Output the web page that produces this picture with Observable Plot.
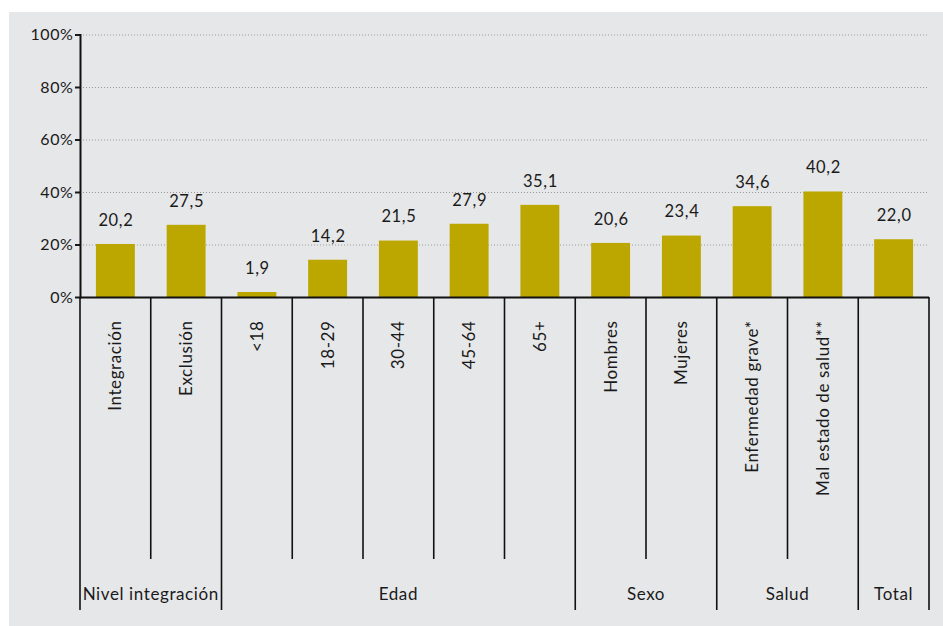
<!DOCTYPE html>
<html><head><meta charset="utf-8">
<script src="https://cdn.jsdelivr.net/npm/d3@7"></script>
<script src="https://cdn.jsdelivr.net/npm/@observablehq/plot@0.6"></script>
<style>
html,body{margin:0;padding:0;background:#fff;}
#chart{position:absolute;left:9px;top:12px;width:934px;height:614px;background:#e6e7e9;}
#chart svg{font-family:Lato,sans-serif;letter-spacing:0.6px;}
</style></head><body><div id="chart"></div>
<script>
const categories = ["Integración","Exclusión","<18","18-29","30-44","45-64","65+","Hombres","Mujeres","Enfermedad grave*","Mal estado de salud**","Total"];
const values = [20.2,27.5,1.9,14.2,21.5,27.9,35.1,20.6,23.4,34.6,40.2,22.0];
const groups = ["Nivel integración","Nivel integración","Edad","Edad","Edad","Edad","Edad","Sexo","Sexo","Salud","Salud","Total"];
const groupNames = ["Nivel integración","Edad","Sexo","Salud","Total"];
const yTicks = [0,20,40,60,80,100];

const data = categories.map((c,i)=>({category:c, value:values[i], group:groups[i]}));
const fmt = v => d3.format(".1f")(v).replace(".", ",");

function dividers(index, scales, vals, dims) {
  const g = d3.create("svg:g");
  const n = categories.length;
  const x0 = dims.marginLeft, x1 = dims.width - dims.marginRight;
  const step = (x1 - x0) / n;
  const base = dims.height - dims.marginBottom;
  for (let i = 0; i <= n; i++) {
    const boundary = i === 0 || i === n || groups[i] !== groups[i-1];
    g.append("line")
      .attr("x1", x0 + i*step).attr("x2", x0 + i*step)
      .attr("y1", base).attr("y2", base + (boundary ? 313 : 262))
      .attr("stroke", "#111").attr("stroke-width", 1.6);
  }
  groupNames.forEach(name => {
    const idx = groups.map((gr,i)=> gr===name ? i : -1).filter(i=>i>=0);
    const cx = x0 + (idx[0] + idx[idx.length-1] + 1) / 2 * step;
    g.append("text").attr("x", cx).attr("y", base + 298)
      .attr("text-anchor", "middle").attr("dy", "0.32em")
      .attr("font-size", 17).attr("fill", "#1a1a1a").text(name);
  });
  return g.node();
}

const plot = Plot.plot({
  width: 934, height: 614,
  marginLeft: 71, marginRight: 14, marginTop: 22.5, marginBottom: 329,
  style: {background: "transparent", fontFamily: "Lato, sans-serif", fontSize: "16px", color: "#1a1a1a", overflow: "visible"},
  x: {domain: categories, paddingInner: 0.45, paddingOuter: 0.225, align: 0.5, round: false, label: null},
  y: {domain: [0, 100], label: null},
  marks: [
    Plot.ruleY(yTicks.filter(d => d > 0), {stroke: "#9a9a9a", strokeDasharray: "1,2", strokeWidth: 1}),
    Plot.barY(data, {x: "category", y: "value", fill: "#bca600"}),
    Plot.text(data, {x: "category", y: "value", text: d => fmt(d.value), dy: -24, fontSize: 16.5, fill: "#1a1a1a"}),
    Plot.axisY({ticks: yTicks, tickFormat: d => d + "%", tickSize: 5, tickPadding: 2, label: null, fontSize: 16, strokeWidth: 2}),
    Plot.axisX({tickRotate: -90, tickSize: 0, tickPadding: 23, label: null, fontSize: 17,
      tickFormat: d => groups[categories.indexOf(d)] === "Total" ? "" : d}),
    Plot.ruleY([0], {strokeWidth: 2, stroke: "#111"}),
    Plot.frame({anchor: "left", strokeWidth: 2, stroke: "#111"}),
    dividers
  ]
});
document.getElementById("chart").appendChild(plot);
</script>
</body></html>
